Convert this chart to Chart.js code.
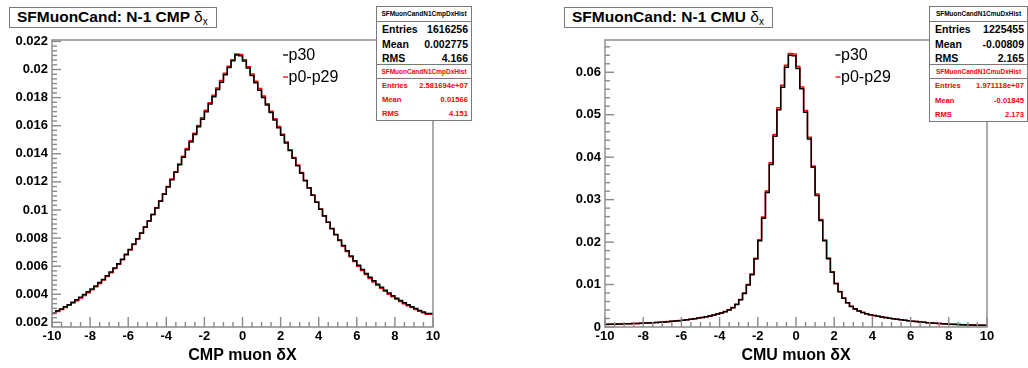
<!DOCTYPE html>
<html>
<head>
<meta charset="utf-8">
<script src="https://cdn.jsdelivr.net/npm/chart.js@4/dist/chart.umd.min.js"></script>
<style>
  html, body { margin: 0; padding: 0; background: #fff; width: 1028px; height: 368px; overflow: hidden;
    font-family: "Liberation Sans", Arial, Helvetica, sans-serif; }
  .pad { position: absolute; top: 0; width: 514px; height: 368px; }
  canvas { display: block; }
  .title { position: absolute; top: 7px; height: 21px; box-sizing: border-box; border: 1px solid #7a7a7a;
    background: #fff; font-weight: bold; font-size: 15.5px; line-height: 18px; padding: 0 8px 0 7px; white-space: nowrap; color: #000; }
  .title .sym { font-weight: normal; }
  .title sub { font-size: 10px; vertical-align: -3px; line-height: 0; }
  .stats { position: absolute; box-sizing: border-box; border: 1px solid #7a7a7a; background: #fff; }
  .stats .head { box-sizing: border-box; border-bottom: 1px solid #7a7a7a; text-align: center; font-weight: bold; white-space: nowrap; }
  .stats .row { display: flex; justify-content: space-between; font-weight: bold; white-space: nowrap; }
</style>
</head>
<body>
<div class="pad" style="left:0"><canvas id="cmp" width="514" height="368"></canvas></div>
<div class="pad" style="left:514px"><canvas id="cmu" width="514" height="368"></canvas></div>

<div class="title" style="left:9px">SFMuonCand: N-1 CMP <span class="sym">δ<sub>x</sub></span></div>
<div class="title" style="left:564px">SFMuonCand: N-1 CMU <span class="sym">δ<sub>x</sub></span></div>

<div id="stats"></div>

<script>
// Histogram range shared by both plots (100 bins of 0.2)
const xRange = [-10, 10];
const xTickLabels = ['-10', '-8', '-6', '-4', '-2', '0', '2', '4', '6', '8', '10'];
const seriesNames = ['p30', 'p0-p29'];

// CMP delta-x, normalised bin contents, p30
const cmpP30 = [
  0.00256, 0.00268, 0.00283, 0.00296, 0.00312, 0.00326, 0.00343, 0.00361, 0.00378, 0.00398,
  0.00418, 0.00438, 0.00459, 0.00483, 0.00506, 0.00531, 0.00558, 0.00587, 0.00617, 0.00650,
  0.00684, 0.00718, 0.00757, 0.00795, 0.00836, 0.00878, 0.00922, 0.00967, 0.01014, 0.01063,
  0.01112, 0.01163, 0.01215, 0.01268, 0.01322, 0.01375, 0.01429, 0.01484, 0.01538, 0.01592,
  0.01646, 0.01700, 0.01754, 0.01806, 0.01858, 0.01910, 0.01963, 0.02014, 0.02062, 0.02103,
  0.02098, 0.02060, 0.02010, 0.01958, 0.01906, 0.01853, 0.01800, 0.01747, 0.01694, 0.01640,
  0.01586, 0.01532, 0.01477, 0.01423, 0.01368, 0.01315, 0.01261, 0.01208, 0.01156, 0.01104,
  0.01055, 0.01006, 0.00958, 0.00913, 0.00869, 0.00826, 0.00786, 0.00747, 0.00709, 0.00673,
  0.00639, 0.00607, 0.00577, 0.00548, 0.00521, 0.00496, 0.00472, 0.00450, 0.00429, 0.00409,
  0.00390, 0.00372, 0.00355, 0.00340, 0.00325, 0.00311, 0.00298, 0.00285, 0.00274, 0.00263
];
// CMP delta-x, p0-p29
const cmpP0to29 = [
  0.00251, 0.00263, 0.00277, 0.00292, 0.00306, 0.00321, 0.00337, 0.00354, 0.00373, 0.00392,
  0.00411, 0.00432, 0.00454, 0.00477, 0.00501, 0.00526, 0.00553, 0.00583, 0.00613, 0.00646,
  0.00680, 0.00716, 0.00754, 0.00793, 0.00834, 0.00877, 0.00921, 0.00968, 0.01016, 0.01065,
  0.01115, 0.01167, 0.01220, 0.01273, 0.01328, 0.01382, 0.01437, 0.01492, 0.01547, 0.01601,
  0.01656, 0.01710, 0.01764, 0.01817, 0.01869, 0.01921, 0.01973, 0.02023, 0.02070, 0.02110,
  0.02106, 0.02069, 0.02020, 0.01968, 0.01916, 0.01864, 0.01811, 0.01757, 0.01703, 0.01649,
  0.01594, 0.01539, 0.01484, 0.01429, 0.01374, 0.01320, 0.01266, 0.01212, 0.01159, 0.01107,
  0.01056, 0.01007, 0.00959, 0.00912, 0.00867, 0.00823, 0.00782, 0.00742, 0.00704, 0.00667,
  0.00633, 0.00600, 0.00570, 0.00541, 0.00513, 0.00488, 0.00464, 0.00442, 0.00421, 0.00401,
  0.00382, 0.00365, 0.00348, 0.00333, 0.00318, 0.00305, 0.00292, 0.00280, 0.00268, 0.00257
];
// CMU delta-x, p30
const cmuP30 = [
  0.00060, 0.00062, 0.00063, 0.00066, 0.00068, 0.00071, 0.00074, 0.00077, 0.00080, 0.00084,
  0.00088, 0.00092, 0.00097, 0.00102, 0.00107, 0.00113, 0.00119, 0.00126, 0.00133, 0.00141,
  0.00150, 0.00160, 0.00171, 0.00183, 0.00196, 0.00210, 0.00225, 0.00242, 0.00261, 0.00282,
  0.00305, 0.00331, 0.00362, 0.00400, 0.00452, 0.00530, 0.00640, 0.00790, 0.00990, 0.01230,
  0.01600, 0.02030, 0.02560, 0.03170, 0.03830, 0.04490, 0.05120, 0.05650, 0.06120, 0.06400,
  0.06390, 0.06090, 0.05610, 0.05060, 0.04430, 0.03760, 0.03100, 0.02510, 0.02030, 0.01610,
  0.01290, 0.01020, 0.00830, 0.00680, 0.00570, 0.00485, 0.00425, 0.00378, 0.00342, 0.00313,
  0.00290, 0.00270, 0.00252, 0.00236, 0.00221, 0.00207, 0.00194, 0.00181, 0.00169, 0.00158,
  0.00147, 0.00137, 0.00128, 0.00119, 0.00111, 0.00103, 0.00096, 0.00089, 0.00083, 0.00077,
  0.00072, 0.00067, 0.00062, 0.00058, 0.00054, 0.00051, 0.00048, 0.00045, 0.00042, 0.00040
];
// CMU delta-x, p0-p29
const cmuP0to29 = [
  0.00059, 0.00061, 0.00064, 0.00066, 0.00069, 0.00071, 0.00074, 0.00078, 0.00081, 0.00085,
  0.00089, 0.00093, 0.00098, 0.00103, 0.00108, 0.00114, 0.00120, 0.00127, 0.00134, 0.00142,
  0.00151, 0.00161, 0.00172, 0.00184, 0.00197, 0.00211, 0.00226, 0.00243, 0.00262, 0.00283,
  0.00307, 0.00334, 0.00365, 0.00404, 0.00457, 0.00536, 0.00648, 0.00800, 0.01003, 0.01246,
  0.01620, 0.02055, 0.02590, 0.03205, 0.03870, 0.04535, 0.05165, 0.05695, 0.06165, 0.06440,
  0.06430, 0.06135, 0.05655, 0.05100, 0.04470, 0.03795, 0.03130, 0.02535, 0.02050, 0.01625,
  0.01300, 0.01028, 0.00836, 0.00685, 0.00574, 0.00488, 0.00427, 0.00380, 0.00343, 0.00314,
  0.00290, 0.00270, 0.00252, 0.00235, 0.00220, 0.00206, 0.00193, 0.00180, 0.00168, 0.00157,
  0.00146, 0.00136, 0.00127, 0.00118, 0.00110, 0.00102, 0.00095, 0.00088, 0.00082, 0.00076,
  0.00071, 0.00066, 0.00061, 0.00057, 0.00053, 0.00050, 0.00047, 0.00044, 0.00041, 0.00039
];

const cmpYTickLabels = ['0.002', '0.004', '0.006', '0.008', '0.01', '0.012', '0.014', '0.016', '0.018', '0.02', '0.022'];
const cmuYTickLabels = ['0', '0.01', '0.02', '0.03', '0.04', '0.05', '0.06'];

// Statistics boxes
const cmpHistName = 'SFMuonCandN1CmpDxHist';
const cmuHistName = 'SFMuonCandN1CmuDxHist';
const cmpStatsP30 = [['Entries', '1616256'], ['Mean', '0.002775'], ['RMS', '4.166']];
const cmpStatsP0to29 = [['Entries', '2.581694e+07'], ['Mean', '0.01566'], ['RMS', '4.151']];
const cmuStatsP30 = [['Entries', '1225455'], ['Mean', '-0.00809'], ['RMS', '2.165']];
const cmuStatsP0to29 = [['Entries', '1.971118e+07'], ['Mean', '-0.01845'], ['RMS', '2.173']];

Chart.defaults.font.family = '"Liberation Sans", Arial, Helvetica, sans-serif';
Chart.defaults.color = '#000';

// Turn bin contents into step-outline points at the bin edges
function histPoints(vals) {
  const w = (xRange[1] - xRange[0]) / vals.length;
  const pts = vals.map((v, i) => ({ x: xRange[0] + i * w, y: v }));
  pts.push({ x: xRange[1], y: vals[vals.length - 1] });
  return pts;
}

// Frame plus inward-pointing major/minor tick marks
const frameTicks = {
  id: 'frameTicks',
  afterDatasetsDraw(chart, args, o) {
    const { ctx, chartArea: a, scales: { x, y } } = chart;
    ctx.save();
    ctx.strokeStyle = o.color;
    ctx.lineWidth = o.width;
    ctx.beginPath();
    ctx.rect(a.left, a.top, a.right - a.left, a.bottom - a.top);
    ctx.stroke();
    const drawAxis = (scale, majors, sub, lenMajor, lenMinor, horiz) => {
      const step = (majors[1] - majors[0]) / sub;
      const lo = scale.min, hi = scale.max;
      const eps = step * 1e-3;
      let start = majors[0];
      while (start - step >= lo - eps) start -= step;
      for (let v = start, k = 0; v <= hi + eps; v = start + (++k) * step) {
        const isMajor = majors.some(m => Math.abs(m - v) < eps);
        const len = isMajor ? lenMajor : lenMinor;
        const p = scale.getPixelForValue(v);
        ctx.beginPath();
        if (horiz) { ctx.moveTo(p, a.bottom); ctx.lineTo(p, a.bottom - len); }
        else { ctx.moveTo(a.left, p); ctx.lineTo(a.left + len, p); }
        ctx.stroke();
      }
    };
    drawAxis(x, o.xMajors, o.xSub, 10, 5, true);
    drawAxis(y, o.yMajors, o.ySub, 9, 5, false);
    ctx.restore();
  }
};

// In-frame legend: short coloured dash followed by the series name
const histLegend = {
  id: 'histLegend',
  afterDraw(chart, args, o) {
    const { ctx } = chart;
    ctx.save();
    ctx.font = '16px "Liberation Sans", Arial, sans-serif';
    ctx.textBaseline = 'middle';
    chart.data.datasets.forEach((ds, i) => {
      const yy = o.y + i * o.dy;
      ctx.strokeStyle = ds.borderColor;
      ctx.lineWidth = 1.3;
      ctx.beginPath();
      ctx.moveTo(o.x, yy);
      ctx.lineTo(o.x + 5, yy);
      ctx.stroke();
      ctx.fillStyle = '#000';
      ctx.fillText(ds.label, o.x + 5.5, yy + 1);
    });
    ctx.restore();
  }
};

function makeChart(id, c) {
  const yMajors = c.yLabels.map(Number);
  const xMajors = xTickLabels.map(Number);
  return new Chart(document.getElementById(id), {
    type: 'line',
    data: {
      datasets: [
        { label: seriesNames[0], data: histPoints(c.black), borderColor: '#000', borderWidth: 1.5,
          stepped: 'after', pointRadius: 0, fill: false },
        { label: seriesNames[1], data: histPoints(c.red), borderColor: '#ff0000', borderWidth: 1.5,
          stepped: 'after', pointRadius: 0, fill: false }
      ]
    },
    options: {
      responsive: false,
      animation: false,
      devicePixelRatio: 1,
      layout: { padding: { left: 0, top: 40, right: c.padRight, bottom: 0 } },
      plugins: {
        legend: { display: false },
        tooltip: { enabled: false },
        frameTicks: { color: '#8a8a8a', width: 1.4, xMajors, xSub: 4, yMajors, ySub: c.ySub },
        histLegend: { x: c.legendX, y: 55, dy: 22 }
      },
      scales: {
        x: {
          type: 'linear', min: xRange[0], max: xRange[1], bounds: 'data',
          grid: { display: false, drawTicks: false }, border: { display: false },
          afterBuildTicks: s => { s.ticks = xMajors.map(v => ({ value: v })); },
          ticks: { font: { weight: 'bold', size: 13 }, color: '#000', padding: 2, maxRotation: 0, autoSkip: false,
                   callback: (v, i) => xTickLabels[i] },
          title: { display: true, text: c.xTitle, font: { weight: 'bold', size: 16 }, color: '#000',
                   padding: { top: 0, bottom: 3 } },
          afterFit: s => { s.height = 41; }
        },
        y: {
          type: 'linear', min: c.yMin, max: c.yMax, bounds: 'data',
          grid: { display: false, drawTicks: false }, border: { display: false },
          afterBuildTicks: s => { s.ticks = yMajors.map(v => ({ value: v })); },
          ticks: { font: { weight: 'bold', size: 13 }, color: '#000', padding: 4, autoSkip: false,
                   callback: (v, i) => c.yLabels[i] },
          afterFit: s => { s.width = c.yWidth; }
        }
      }
    },
    plugins: [frameTicks, histLegend]
  });
}

makeChart('cmp', {
  black: cmpP30, red: cmpP0to29, yLabels: cmpYTickLabels, yMin: 0.00167, yMax: 0.0221, ySub: 6,
  yWidth: 52, padRight: 81, legendX: 283, xTitle: 'CMP muon δX'
});
makeChart('cmu', {
  black: cmuP30, red: cmuP0to29, yLabels: cmuYTickLabels, yMin: 0, yMax: 0.0676, ySub: 5,
  yWidth: 91, padRight: 41, legendX: 321.5, xTitle: 'CMU muon δX'
});

// Statistics boxes (one section per series)
function statsSection(left, top, width, height, headH, name, rows, color, headSize, rowSize, rowH) {
  const box = document.createElement('div');
  box.className = 'stats';
  Object.assign(box.style, { left: left + 'px', top: top + 'px', width: width + 'px', height: height + 'px', color });
  const head = document.createElement('div');
  head.className = 'head';
  Object.assign(head.style, { height: headH + 'px', lineHeight: (headH - 1) + 'px', fontSize: headSize + 'px' });
  head.textContent = name;
  box.appendChild(head);
  rows.forEach(([k, v]) => {
    const r = document.createElement('div');
    r.className = 'row';
    Object.assign(r.style, { height: rowH + 'px', lineHeight: rowH + 'px', fontSize: rowSize + 'px', padding: '0 3px 0 5px' });
    const a = document.createElement('span'); a.textContent = k;
    const b = document.createElement('span'); b.textContent = v;
    r.appendChild(a); r.appendChild(b);
    box.appendChild(r);
  });
  document.getElementById('stats').appendChild(box);
}
statsSection(376, 6, 96, 59, 15, cmpHistName, cmpStatsP30, '#000', 6.5, 10.5, 14.7);
statsSection(376, 64, 96, 57, 14, cmpHistName, cmpStatsP0to29, '#ff0000', 6.5, 7.6, 14.2);
statsSection(929, 6, 99, 59, 15, cmuHistName, cmuStatsP30, '#000', 6.5, 10.5, 14.7);
statsSection(929, 64, 99, 58, 14, cmuHistName, cmuStatsP0to29, '#ff0000', 6.5, 7.6, 14.5);
</script>
</body>
</html>
